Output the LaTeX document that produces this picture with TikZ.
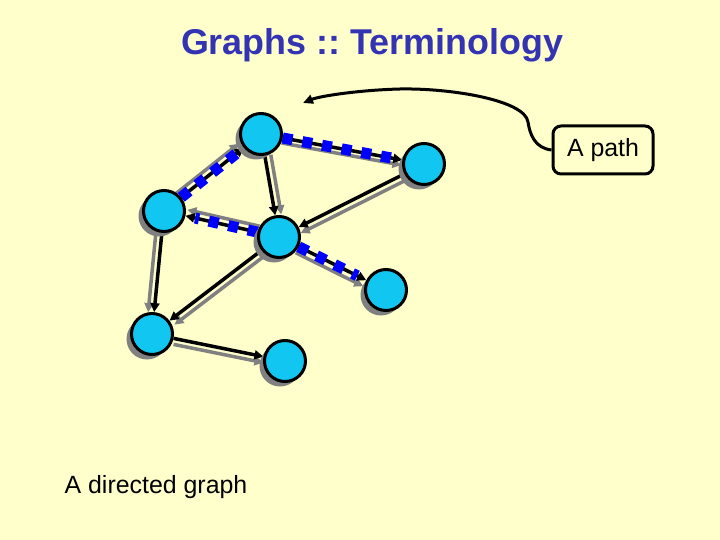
\documentclass[tikz,border=0pt]{standalone}
\usepackage{fontspec}
\setmainfont{Liberation Sans}
\usetikzlibrary{arrows.meta,shadows,backgrounds}
\definecolor{slidebg}{RGB}{255,255,204}
\definecolor{titleblue}{RGB}{51,51,179}
\definecolor{vertexblue}{RGB}{17,199,241}
\definecolor{shadowgray}{RGB}{128,128,128}
\frenchspacing

\begin{document}
\begin{tikzpicture}[x=1bp,y=-1bp,
  vertex/.style={circle,draw=black,line width=3bp,fill=vertexblue,minimum size=41bp,inner sep=0pt,
    drop shadow={shadow xshift=-5bp,shadow yshift=-5bp,fill=shadowgray,opacity=1}},
  arrowline/.style={draw=black,line width=3.5bp,-{Triangle[length=9bp,width=9bp]}},
  shadowarc/.style={draw=shadowgray,line width=3.5bp,-{Triangle[length=9bp,width=9bp]}},
  pathdots/.style={draw=blue,line width=11bp,dash pattern=on 10bp off 10bp,shorten >=10bp},
  caption/.style={font=\fontsize{25}{30}\selectfont}]
\useasboundingbox (0,0) rectangle (720,540);

% title
\node[font=\fontsize{36}{42}\selectfont\bfseries,text=titleblue] (title) at (372,45) {Graphs :: Terminology};

% the graph
\node[vertex] (A) at (261,134) {};
\node[vertex] (B) at (424,164) {};
\node[vertex] (C) at (164,211) {};
\node[vertex] (D) at (279,237) {};
\node[vertex] (E) at (386,290) {};
\node[vertex] (F) at (152,334) {};
\node[vertex] (G) at (285,361) {};

\node[caption] (graphlbl) at (156,487) {A directed graph};

% callout
\node[caption,draw=black,line width=3bp,rounded corners=8bp,fill=slidebg,
  minimum width=100bp,minimum height=48bp] (pathbox) at (603,150) {A path};
\coordinate (pathtip) at (303,103);
\draw[line width=3bp,-{Triangle[length=10bp,width=9bp]}] (pathbox.west)
  .. controls (535,148) and (530,135) .. (528,122)
  .. controls (525,100) and (450,88) .. (400,89)
  .. controls (360,90) and (320,96) .. (pathtip);

\begin{scope}[on background layer]
\fill[slidebg] (0,0) rectangle (720,540);
\foreach \from/\to/\dx/\dy in {A/B/-1/5, C/A/-5/-4, A/D/6/-1, B/D/2/6, D/C/2/-6,
  D/E/-3/6, C/F/-6/0, D/F/5/4, F/G/0/6}
  \draw[shadowarc,transform canvas={shift={(\dx,\dy)}}] (\from) -- (\to);
\foreach \from/\to in {A/B, C/A, A/D, B/D, D/C, D/E, C/F, D/F, F/G}
  \draw[arrowline] (\from) -- (\to);
\foreach \from/\to in {C/A, A/B, D/C, D/E}
  \draw[pathdots] (\from) -- (\to);
\end{scope}
\end{tikzpicture}
\end{document}
